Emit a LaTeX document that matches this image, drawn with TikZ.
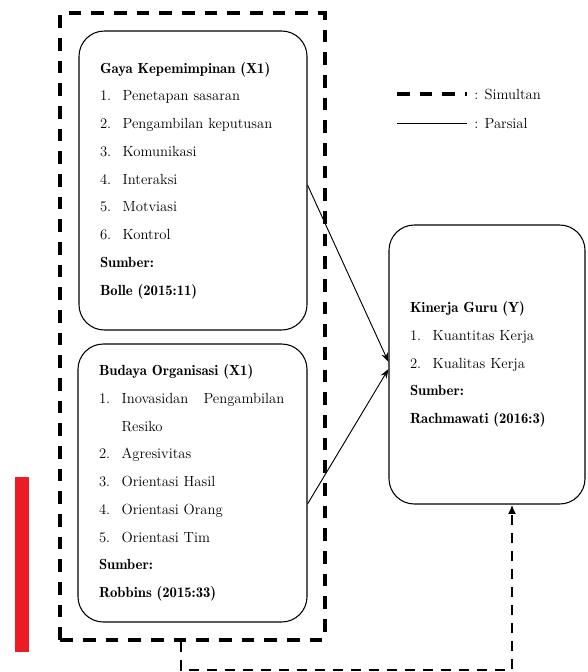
\documentclass[tikz,border=0pt]{standalone}
\usepackage{tikz}
\usetikzlibrary{fit,arrows.meta}
\definecolor{BarRed}{RGB}{237,28,36}
\newcommand{\itm}[2]{\makebox[17pt][l]{#1}#2}
\newcommand{\hd}[1]{\mbox{\fontseries{b}\selectfont #1}}

\begin{document}
\begin{tikzpicture}[x=0.75pt, y=-0.75pt,
    varbox/.style={draw, line width=0.8pt, rounded corners=19pt, align=left,
        inner xsep=15.75pt, inner ysep=0pt, font=\fontsize{11}{20.8}\selectfont},
    simline/.style={line width=3pt, dash pattern=on 9.5pt off 7.5pt},
    simarrow/.style={line width=1.5pt, dash pattern=on 8pt off 5.5pt},
    parline/.style={line width=0.7pt}]
    \useasboundingbox (0,0) rectangle (587,672);

    % Variables
    \node[varbox, text width=139.5pt, minimum height=224.25pt] (x1box) at (193,180.5) {
        \hd{Gaya Kepemimpinan (X1)}\\
        \itm{1.}{Penetapan sasaran}\\
        \itm{2.}{Pengambilan keputusan}\\
        \itm{3.}{Komunikasi}\\
        \itm{4.}{Interaksi}\\
        \itm{5.}{Motviasi}\\
        \itm{6.}{Kontrol}\\
        \hd{Sumber:}\\
        \hd{Bolle (2015:11)}};

    \node[varbox, text width=140.25pt, minimum height=208.5pt] (x2box) at (192.5,483) {
        \hd{Budaya Organisasi (X1)}\\
        \itm{1.}{\makebox[122pt][s]{Inovasidan\hfill Pengambilan}}\\
        \hspace*{17pt}Resiko\\
        \itm{2.}{Agresivitas}\\
        \itm{3.}{Orientasi Hasil}\\
        \itm{4.}{Orientasi Orang}\\
        \itm{5.}{Orientasi Tim}\\
        \hd{Sumber:}\\
        \hd{Robbins (2015:33)}};

    \node[varbox, text width=115.5pt, minimum height=209.25pt] (ybox) at (487,364.5) {
        \hd{Kinerja Guru (Y)}\\
        \itm{1.}{Kuantitas Kerja}\\
        \itm{2.}{Kualitas Kerja}\\
        \hd{Sumber:}\\
        \hd{Rachmawati (2016:3)}};

    % Simultan frame
    \node[simline, draw, fit=(x1box)(x2box), inner sep=12.75pt] (simbox) {};

    % Partial effects
    \draw[parline, -{Stealth[length=7pt,width=5pt]}] ([yshift=-3.4pt]x1box.east) -- ([yshift=1.9pt]ybox.west);
    \draw[parline, -{Stealth[length=7pt,width=5pt]}] ([yshift=-15.75pt]x2box.east) -- ([yshift=-3.4pt]ybox.west);

    % Simultaneous effect
    \coordinate (turnA) at (181,670);
    \coordinate (turnB) at (512,670);
    \draw[simarrow, -{Latex[length=7pt,width=6pt]}] (simbox.south -| turnA) -- (turnA) -- (turnB) -- (ybox.south -| turnB);

    % Legend
    \coordinate (simA) at (397,94);
    \coordinate (simB) at (467,94);
    \coordinate (parA) at (397,123);
    \coordinate (parB) at (467,123);
    \draw[simline, line width=2.5pt] (simA) -- (simB);
    \draw[parline] (parA) -- (parB);
    \node[anchor=west, inner sep=0pt, font=\fontsize{11}{13}\selectfont] (simlabel) at (474,94) {: Simultan};
    \node[anchor=west, inner sep=0pt, font=\fontsize{11}{13}\selectfont] (parlabel) at (474,123) {: Parsial};

    % Red bar
    \fill[BarRed] (15,477) rectangle (29,652);
\end{tikzpicture}
\end{document}
